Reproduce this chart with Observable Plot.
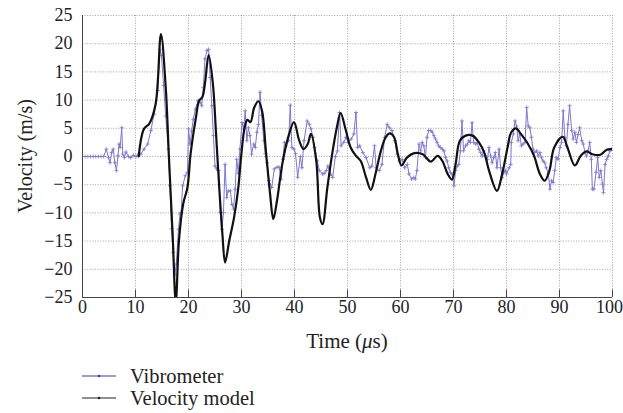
<!DOCTYPE html>
<html>
<head>
<meta charset="utf-8">
<script src="https://cdn.jsdelivr.net/npm/d3@7"></script>
<script src="https://cdn.jsdelivr.net/npm/@observablehq/plot@0.6"></script>
<style>
  html, body { margin: 0; padding: 0; background: #fff; }
  #wrap { width: 623px; height: 413px; position: relative; font-family: "Liberation Serif", "DejaVu Serif", serif; color: #222; overflow: hidden; }
  #legend { position: absolute; left: 82px; top: 365px; font-size: 20.5px; line-height: 22px; }
  .row { display: flex; align-items: center; height: 22px; }
  .row svg { margin-right: 14px; }
</style>
</head>
<body>
<div id="wrap">
  <div id="chart"></div>
  <div id="legend"></div>
</div>
<script>
// Tick values
const xTicks = [0, 10, 20, 30, 40, 50, 60, 70, 80, 90, 100];
const yTicks = [-25, -20, -15, -10, -5, 0, 5, 10, 15, 20, 25];

// Vibrometer (measured) – time (µs)
const vibT = [0,0.5,1,1.5,2,2.5,3,3.5,4,4.5,4.9,5.2,5.5,5.8,6.1,6.4,6.7,6.9,7.1,7.4,7.6,7.9,8.2,8.7,9.1,9.6,10.1,10.6,11.0,11.6,12.3,12.9,13.5,14.2,14.6,14.9,15.3,15.7,16.2,16.5,16.8,17.1,17.4,17.7,18.1,18.4,18.6,18.9,19.4,19.8,20.0,20.3,20.6,20.9,21.3,21.8,22.2,22.5,22.8,23.1,23.5,23.8,24.1,24.4,24.7,25.0,25.3,25.7,26.0,26.3,26.6,26.9,27.2,27.5,27.9,28.2,28.5,28.8,29.1,29.4,29.7,30.1,30.4,30.7,31.0,31.3,31.6,31.9,32.3,32.6,32.9,33.2,33.5,33.8,34.2,34.5,34.8,35.2,35.7,36.2,36.7,37.1,37.5,37.8,38.1,38.4,38.9,39.2,39.5,39.9,40.2,40.6,41.1,41.4,41.8,42.4,42.8,43.1,43.5,43.8,44.3,44.7,45.3,45.6,46.0,46.3,46.8,47.2,47.7,48.1,48.5,48.8,49.3,49.7,50.1,50.7,51.2,51.6,51.9,52.3,52.9,53.5,54.2,54.6,55.1,55.4,56.0,56.5,57.0,57.5,57.9,58.4,58.9,59.4,59.8,60.3,60.8,61.3,61.6,62.1,62.5,62.8,63.1,63.5,63.8,64.1,64.4,64.7,65.0,65.3,65.7,66.0,66.3,66.6,66.9,67.2,67.5,67.9,68.2,68.5,68.8,69.1,69.4,69.7,70.1,70.4,70.7,71.0,71.3,71.6,71.9,72.3,72.6,72.9,73.2,73.5,73.8,74.2,74.5,74.8,75.1,75.4,75.7,76.0,76.4,76.7,77.0,77.3,77.6,77.9,78.2,78.6,78.9,79.2,79.5,79.8,80.0,80.5,80.8,80.9,81.3,81.6,81.9,82.2,82.5,82.8,83.1,83.5,83.8,84.1,84.4,84.7,85.0,85.3,85.7,86.0,86.3,86.6,86.9,87.2,87.5,87.9,88.2,88.5,88.8,89.1,89.4,89.7,90.1,90.4,90.7,91.0,91.3,91.6,91.9,92.3,92.6,92.9,93.2,93.5,93.8,94.2,94.5,94.8,95.1,95.4,95.7,96.0,96.2,96.5,96.9,97.2,97.5,97.8,98.1,98.3,98.6,98.9,99.2,99.5,99.8];
// Vibrometer velocity (m/s)
const vibV = [0,0,0,0,0,0,0,0,0,1.3,-0.2,-1.1,0.7,1.3,-1.1,-2.5,0.1,2.2,1.6,5.1,0.4,-0.2,0.8,0,-0.2,0.2,0,0.4,0.4,1.3,2.2,4.6,7.5,11.7,19.0,17.9,12.6,7.2,1.3,-5.2,-12.8,-17,-21,-19.1,-12.9,-10.2,-9.9,-5.2,-3.4,-2.8,4.9,2.2,4.5,6.6,8.4,9.9,9.6,9,12.2,17.3,18.8,19,14,9,3.7,-1.7,-2.2,-2.5,-9.9,-12.9,-9.9,-1.4,-7.3,-6.1,-6.1,-8.5,-9.3,-5.8,-0.5,-3,1.3,6,4.9,8.1,2.8,5.1,3.7,0.4,2.2,1.6,4.3,5.7,11.4,7.3,2.8,0.5,-1.1,-4.3,-5.5,-2.2,-1.9,-1.9,-4,-0.5,2.5,1.9,2.8,9.1,1.6,1.3,0.5,-3.7,0,-2,2.8,6.3,5.7,4.9,3.4,1.6,-0.8,-2.5,-3.1,-3,-2.5,-1.7,-3.1,-3.7,0,1,7.8,1.9,2.5,3.4,2.5,3.1,4,7.8,1.6,1.9,0.7,-0.2,-2,-1.7,1.9,-2,-2.5,-1.4,3.4,5.7,5.1,4.6,2.8,0.4,-0.8,-0.5,-2,-1.4,-3.1,-4,-3.7,-4,-2.5,2.2,1,2.5,1.9,-0.2,3.4,4.6,4.6,4.3,3.7,3.1,2.5,1.9,1.6,1.3,1,-0.2,-0.8,-2,-2.8,-3.1,-5.2,-2.5,-1.7,-1.4,1,6.3,1,1.9,2.2,2.8,2.5,6,2.5,2.2,2.5,1.3,0.7,0.1,1,0.1,-0.5,1.6,0.1,-1.1,-0.2,0.7,-2,1.3,-2,-3.7,-2.8,-2.5,-3.1,-2,-1.4,2.5,4,6.3,5.4,2.8,4,1.9,2.2,2.5,8.7,5.4,5.1,3.4,1.3,0.7,1,0.1,0.7,-0.2,-0.8,-1.1,-2,-3.1,-5.8,-4.3,-4.6,-2.5,-0.2,-0.5,1.6,2.5,8.1,3.4,1.9,5.7,9.0,4.6,3.1,4.3,2.5,3.9,5.1,2.8,2.2,0.7,0.1,1,2.5,-0.5,-5.8,-5.8,-2.8,-0.2,-3.7,-2.5,-4.9,-6.4,-1.4,-0.5,0.1,1,1.3];

// Velocity model – time (µs)
const modelT = [10.6,11.6,12.6,13.8,14.8,15.7,16.3,17.0,17.6,18.2,19.0,19.8,20.4,21.4,22.0,22.6,23.1,23.8,24.6,25.2,25.8,26.4,26.9,27.7,28.6,29.4,29.9,30.6,31.1,31.7,32.4,33.2,33.9,34.6,35.4,36.0,36.7,37.7,38.8,39.9,40.9,41.7,42.5,43.1,44.1,44.8,45.3,46.2,47.2,48.0,48.7,49.7,50.6,51.6,52.5,53.5,54.4,55.3,56.3,57.2,58.0,58.8,59.5,60.2,61.2,62.6,64.2,65.7,67.0,67.9,68.9,69.7,70.4,71.2,72.3,73.6,74.8,75.8,76.7,78.2,79.2,80.2,80.9,81.8,82.7,84.0,85.2,86.3,87.2,88.1,89.0,90.6,91.5,92.9,94.0,95.1,96.2,97.7,98.9,99.8];
// Velocity model velocity (m/s)
const modelV = [0,4.9,5.8,9.3,21.7,12.3,0,-13.7,-25.8,-14.9,-8.4,-5.5,0.5,6.9,9.9,10.5,12.9,18.0,12.9,4.0,-5.5,-13.8,-18.8,-14.9,-10.8,-5.5,-0.3,5.2,6.5,6.1,8.7,9.8,8.0,1.0,-6.7,-11.1,-7.8,-1.3,3.4,6.1,2.8,1.3,2.2,4.0,-0.7,-10.8,-12.0,-5.5,1.0,5.2,7.7,4.6,1.6,0.1,-0.8,-3.7,-5.9,-3.0,1.0,3.4,4.1,3.4,0.4,-1.6,-0.2,0.6,0.4,-0.9,0.1,-0.8,-3.1,-4.1,-1.3,2.8,3.7,3.7,2.5,0.7,-2.5,-6.1,-3.0,1.6,4.3,5.0,4.0,2.3,0.1,-3.1,-4.3,-2.5,1.6,3.5,1.6,-1.6,0.1,0.9,0.4,0.3,1.2,1.3];

const seriesNames = ["Vibrometer", "Velocity model"];
const seriesColors = ["#7b77cd", "#111111"];
const legendColors = ["#3b3bb0", "#222222"];

const vib = vibT.map((t, i) => ({t, v: vibV[i]}));
const model = modelT.map((t, i) => ({t, v: modelV[i]}));

const fmt = d => d < 0 ? "\u2212" + (-d) : String(d);
const font = "'Liberation Serif', 'DejaVu Serif', serif";

const chart = Plot.plot({
  width: 623,
  height: 355,
  marginLeft: 82,
  marginRight: 11,
  marginTop: 15,
  marginBottom: 58,
  style: {fontSize: "18px", color: "#222", background: "white", overflow: "visible"},
  x: {domain: [0, 100], label: null},
  y: {domain: [-25, 25], label: null},
  marks: [
    Plot.gridX(xTicks, {stroke: "#8a8a8a", strokeOpacity: 1, strokeDasharray: "1,1.6", strokeWidth: 0.8}),
    Plot.gridY(yTicks, {stroke: "#8a8a8a", strokeOpacity: 1, strokeDasharray: "1,1.6", strokeWidth: 0.8}),
    Plot.line(vib, {x: "t", y: "v", stroke: seriesColors[0], strokeWidth: 1, clip: true}),
    Plot.dot(vib, {x: "t", y: "v", symbol: "plus", r: 1.4, stroke: seriesColors[0], strokeWidth: 0.8, clip: true}),
    Plot.line(model, {x: "t", y: "v", curve: "catmull-rom", stroke: seriesColors[1], strokeWidth: 2.2, clip: true}),
    Plot.ruleX(xTicks, {x: d => d, y1: -25, y2: -23.7, stroke: "#444", strokeWidth: 1}),
    Plot.ruleY([-25], {stroke: "#444", strokeWidth: 1}),
    Plot.ruleX([0], {stroke: "#444", strokeWidth: 1}),
    Plot.axisX(xTicks, {tickSize: 0, tickPadding: 3, tickFormat: fmt, fontSize: 18, label: null}),
    Plot.axisY(yTicks, {tickSize: 0, tickPadding: 10, tickFormat: fmt, fontSize: 18, label: null})
  ]
});

// Axis titles
const sx = chart.scale("x"), sy = chart.scale("y");
const svgNode = chart.tagName.toLowerCase() === "svg" ? chart : chart.querySelector("svg");
const svg = d3.select(svgNode);
const xt = svg.append("text")
  .attr("x", (sx.apply(0) + sx.apply(100)) / 2)
  .attr("y", sy.apply(-25) + 51)
  .attr("text-anchor", "middle")
  .attr("font-size", 21)
  .attr("fill", "#222");
xt.append("tspan").text("Time (");
xt.append("tspan").attr("font-style", "italic").text("\u03bc");
xt.append("tspan").text("s)");

svg.append("text")
  .attr("transform", `translate(25,${(sy.apply(-25) + sy.apply(25)) / 2}) rotate(-90)`)
  .attr("text-anchor", "middle")
  .attr("dominant-baseline", "central")
  .attr("font-size", 20)
  .attr("fill", "#222")
  .text("Velocity (m/s)");

// Force serif font on every text element
svgNode.style.fontFamily = font;
svg.selectAll("g, text, tspan").style("font-family", font).style("font-variant", "normal");
// keep the right-most tick label ("100") inside the window
svg.selectAll("text").filter(function() { return this.textContent === String(xTicks[xTicks.length - 1]); })
  .attr("dx", -3);

document.getElementById("chart").appendChild(chart);

// Legend
const legend = d3.select("#legend");
seriesNames.forEach((name, i) => {
  const row = legend.append("div").attr("class", "row");
  const s = row.append("svg").attr("width", 34).attr("height", 10);
  s.append("line").attr("x1", 0).attr("x2", 34).attr("y1", 5).attr("y2", 5)
    .attr("stroke", legendColors[i]).attr("stroke-width", 1.2);
  s.append("circle").attr("cx", 17).attr("cy", 5).attr("r", 1.3).attr("fill", legendColors[i]);
  row.append("span").text(name);
});
</script>
</body>
</html>
